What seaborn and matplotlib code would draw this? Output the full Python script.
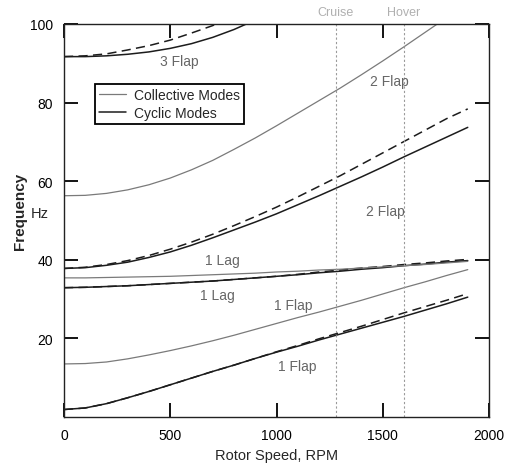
import matplotlib
matplotlib.use("Agg")
import matplotlib.pyplot as plt
from matplotlib.lines import Line2D
import seaborn as sns
import pandas as pd

# Rotor speed samples (RPM)
rpm = [0, 100, 200, 300, 400, 500, 600, 700, 800, 900, 1000,
       1100, 1200, 1300, 1400, 1500, 1600, 1700, 1800, 1900]

# Cyclic modes (solid / dashed pairs), Hz
flap1_cyc = [1.9, 2.3, 3.4, 4.9, 6.5, 8.2, 9.9, 11.6, 13.2, 14.9, 16.5,
             18.0, 19.6, 21.1, 22.6, 24.1, 25.6, 27.2, 28.8, 30.5]
flap1_cyc_b = [1.9, 2.3, 3.4, 4.9, 6.5, 8.2, 9.9, 11.6, 13.2, 14.9, 16.6,
               18.2, 19.9, 21.5, 23.1, 24.8, 26.5, 28.1, 29.7, 31.4]
lag1_cyc = [32.9, 33.0, 33.2, 33.4, 33.7, 34.0, 34.3, 34.6, 35.0, 35.4, 35.8,
            36.2, 36.7, 37.1, 37.6, 38.0, 38.5, 38.9, 39.4, 39.8]
lag1_cyc_b = [32.9, 33.0, 33.2, 33.4, 33.7, 34.0, 34.3, 34.6, 35.0, 35.4, 35.8,
              36.3, 36.9, 37.4, 37.9, 38.3, 38.8, 39.2, 39.7, 40.1]
flap2_cyc = [37.8, 38.0, 38.6, 39.4, 40.6, 42.0, 43.7, 45.6, 47.6, 49.6, 51.7,
             54.0, 56.3, 58.7, 61.1, 63.6, 66.2, 68.7, 71.2, 73.7]
flap2_cyc_b = [37.8, 38.1, 38.8, 39.8, 41.1, 42.7, 44.5, 46.5, 48.7, 51.0, 53.4,
               56.0, 58.7, 61.4, 64.3, 67.2, 70.1, 73.0, 75.9, 78.4]

rpm_flap3 = [0, 100, 200, 300, 400, 500, 600, 700, 800, 900]
flap3_cyc = [91.7, 91.7, 91.9, 92.3, 92.9, 93.8, 95.0, 96.6, 98.6, 101.0]
rpm_flap3_b = [0, 100, 200, 300, 400, 500, 600, 700, 800]
flap3_cyc_b = [91.7, 91.9, 92.4, 93.4, 94.5, 95.9, 97.7, 99.6, 102.0]

# Collective modes, Hz
flap1_col = [13.5, 13.6, 14.0, 14.8, 15.8, 16.9, 18.1, 19.4, 20.8, 22.3, 23.8,
             25.3, 26.7, 28.2, 29.7, 31.3, 32.9, 34.4, 36.0, 37.5]
lag1_col = [35.4, 35.4, 35.5, 35.6, 35.7, 35.8, 36.0, 36.2, 36.4, 36.6, 36.9,
            37.1, 37.4, 37.6, 37.9, 38.2, 38.5, 38.8, 39.2, 39.6]
rpm_flap2_col = [0, 100, 200, 300, 400, 500, 600, 700, 800, 900, 1000,
                 1100, 1200, 1300, 1400, 1500, 1600, 1700, 1800]
flap2_col = [56.3, 56.4, 56.9, 57.8, 59.1, 60.8, 62.9, 65.3, 68.1, 71.0, 74.1,
             77.3, 80.5, 83.7, 87.1, 90.6, 94.2, 97.9, 101.6]

# Operating speeds
op_names = ["Cruise", "Hover"]
op_rpm = [1280, 1600]

# Mode labels: text, rpm, Hz
mode_labels = ["3 Flap", "2 Flap", "2 Flap", "1 Lag", "1 Lag", "1 Flap", "1 Flap"]
mode_label_x = [545, 1530, 1510, 745, 720, 1080, 1100]
mode_label_y = [90.5, 85.6, 52.5, 40.0, 31.0, 28.5, 13.0]

sns.set_style("ticks")
plt.rcParams["font.family"] = ["Liberation Sans", "DejaVu Sans"]

fig = plt.figure(figsize=(5.14, 4.64), dpi=100)
ax = fig.add_axes([64 / 514, 1 - 418 / 464, 425 / 514, 393 / 464])

BLACK = "#1c1c1c"
GREY = "#7a7a7a"
DASH = (0, (6, 3.5))


def curve(x, y, color, ls="-", lw=1.1):
    df = pd.DataFrame({"rpm": x, "hz": y})
    sns.lineplot(data=df, x="rpm", y="hz", ax=ax, color=color,
                 linestyle=ls, linewidth=lw, sort=True, estimator=None)


# cyclic modes
curve(rpm, flap1_cyc, BLACK)
curve(rpm, flap1_cyc_b, BLACK, DASH)
curve(rpm, lag1_cyc, BLACK)
curve(rpm, lag1_cyc_b, BLACK, DASH)
curve(rpm, flap2_cyc, BLACK)
curve(rpm, flap2_cyc_b, BLACK, DASH)
curve(rpm_flap3, flap3_cyc, BLACK)
curve(rpm_flap3_b, flap3_cyc_b, BLACK, DASH)

# collective modes
curve(rpm, flap1_col, GREY, lw=0.9)
curve(rpm, lag1_col, GREY, lw=0.9)
curve(rpm_flap2_col, flap2_col, GREY, lw=0.9)

# operating speed markers
for name, r in zip(op_names, op_rpm):
    ax.axvline(r, color="#9a9a9a", lw=0.8, linestyle=(0, (2, 2)))
    ax.text(r, 101.5, name, ha="center", va="bottom", fontsize=9,
            color="#b0b0b0")

for t, x, y in zip(mode_labels, mode_label_x, mode_label_y):
    ax.text(x, y, t, ha="center", va="center", fontsize=10, color="#666666")

ax.set_xlim(0, 2000)
ax.set_ylim(0, 100)
ax.set_xticks([0, 500, 1000, 1500, 2000])
ax.set_yticks([20, 40, 60, 80, 100])
ax.tick_params(direction="in", length=10, width=1.3, top=True, right=True,
               labelsize=10, colors="black", pad=8)
for s in ax.spines.values():
    s.set_visible(True)
    s.set_linewidth(1.0)
    s.set_color("#222222")

ax.set_xlabel("Rotor Speed, RPM", fontsize=10.5, labelpad=4)
ax.set_ylabel("")
fig.text(20 / 514, 1 - 211 / 464, "Frequency", rotation=90, ha="center",
         va="center", fontsize=11, fontweight="bold")
fig.text(40 / 514, 1 - 214 / 464, "Hz", ha="center", va="center",
         fontsize=10.5)

handles = [Line2D([], [], color=GREY, lw=0.9),
           Line2D([], [], color=BLACK, lw=1.1)]
leg = ax.legend(handles, ["Collective Modes", "Cyclic Modes"],
                loc="upper left", bbox_to_anchor=(0.073, 0.847),
                borderaxespad=0, fontsize=10, frameon=True, fancybox=False,
                handlelength=1.9, handletextpad=0.6, labelspacing=0.25,
                borderpad=0.3)
leg.get_frame().set_edgecolor("black")
leg.get_frame().set_linewidth(1.3)
leg.get_frame().set_alpha(1)

fig.savefig("out.png", dpi=100)
